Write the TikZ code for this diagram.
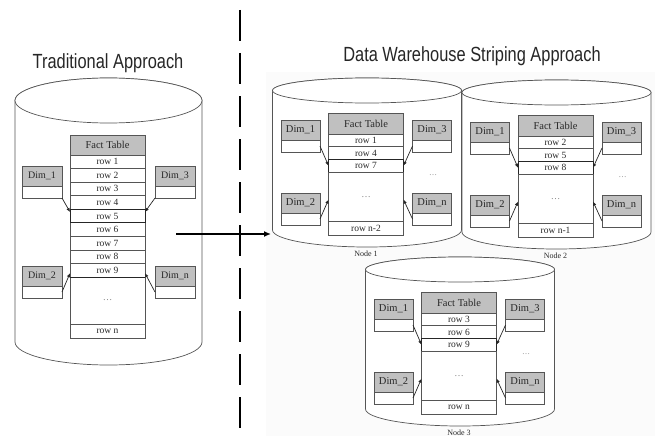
\documentclass[tikz,border=0pt]{standalone}
\usepackage{fontspec}
\setmainfont{Liberation Serif}
\newfontfamily\ttlfont[FakeStretch=0.8]{Liberation Sans}
\usetikzlibrary{positioning, arrows.meta}

\definecolor{hdrgray}{RGB}{192,192,192}
\definecolor{edgegray}{RGB}{85,85,85}
\definecolor{inkgray}{RGB}{40,40,40}

\newcommand{\dbcyl}[6]{%
  \filldraw[db] (#1-#4,#2) -- (#1-#4,#3) arc[start angle=180, end angle=360, x radius=#4pt, y radius=#6pt]
    -- (#1+#4,#2) arc[start angle=0, end angle=180, x radius=#4pt, y radius=#5pt] -- cycle;
  \draw[db] (#1,#2) ellipse[x radius=#4pt, y radius=#5pt];}

\begin{document}
\begin{tikzpicture}[x=1pt, y=-1pt,
  db/.style={draw=edgegray, fill=white, line width=0.7pt},
  box/.style={draw=edgegray, line width=0.6pt, inner sep=0pt, outer sep=0pt, text=inkgray},
  fthead/.style={box, fill=hdrgray, minimum width=75pt, anchor=north, font=\fontsize{10.5}{10.5}\selectfont},
  ftrow/.style={box, fill=white, minimum width=75pt, font=\fontsize{9.5}{9.5}\selectfont},
  hit/.style={draw=black!85},
  dimhead/.style={box, fill=hdrgray, minimum width=40pt, minimum height=20pt, anchor=north, font=\fontsize{10}{10}\selectfont},
  dimbody/.style={box, fill=white, minimum width=40pt, minimum height=12pt},
  dimarrow/.style={-{Latex[length=4pt,width=3.5pt]}, line width=0.7pt, black!85},
  bigarrow/.style={-{Latex[length=7pt,width=6pt]}, line width=1.8pt},
  divider/.style={line width=1.8pt, dash pattern=on 31pt off 12pt},
  title/.style={anchor=base, text=black!85, font=\ttlfont\fontsize{20.5}{24}\selectfont},
  note/.style={text=gray, font=\fontsize{8}{8}\selectfont},
  nodelbl/.style={text=inkgray, font=\fontsize{8}{8}\selectfont}]

\useasboundingbox (0,0) rectangle (655,436);
\fill[gray!3] (266,72) rectangle (655,436);

\node[title] (ttl-a) at (108,68) {Traditional Approach};
\node[title] (ttl-b) at (472,62) {Data Warehouse Striping Approach};

\draw[divider] (240,10) -- (240,436);

\dbcyl{108.5}{100.5}{342}{93.5}{22.5}{23}
\node[fthead, minimum height=20pt] (t-h) at (107.5,135) {Fact Table};
\foreach \i [remember=\i as \p (initially h)] in {1,...,9}
  \node[ftrow, minimum height=13.55pt, below=0pt of t-\p] (t-\i) {row \i};
\node[ftrow, minimum height=47pt, below=0pt of t-9] (t-gap) {\textcolor{gray}{\dots}};
\node[ftrow, minimum height=14pt, below=0pt of t-gap] (t-n) {row n};
\draw[hit, line width=0.9pt] (t-5.north west) rectangle (t-5.south east);
\draw[hit, line width=0.9pt] (t-9.south west) -- (t-9.south east);

\foreach \d/\x/\y in {1/42/166, 3/175/166, 2/42/266, n/175/266}{
  \node[dimhead] (d\d-h) at (\x,\y) {Dim\_\d};
  \node[dimbody, below=0pt of d\d-h] (d\d-b) {};
}
\draw[dimarrow] (d1-b.south east) -- ([yshift=4pt]t-5.west);
\draw[dimarrow] (d3-b.south west) -- ([yshift=4pt]t-5.east);
\draw[dimarrow] (d2-b.east) -- ([yshift=-3pt]t-9.west);
\draw[dimarrow] (dn-b.west) -- ([yshift=-3pt]t-9.east);

\foreach \k/\cx/\ty/\ra/\rb/\rc/\last in {1/366/113/1/4/7/n-2, 2/555.5/115/2/5/8/n-1, 3/459/292/3/6/9/n}{
  \dbcyl{\cx+1}{\ty-22.5}{\ty+117}{94.5}{12.5}{17}
  \node[fthead, minimum height=21pt] (s\k-h) at (\cx,\ty) {Fact Table};
  \node[ftrow, minimum height=12.7pt, below=0pt of s\k-h] (s\k-a) {row \ra};
  \node[ftrow, minimum height=12.7pt, below=0pt of s\k-a] (s\k-b) {row \rb};
  \node[ftrow, hit, minimum height=12.7pt, below=0pt of s\k-b] (s\k-c) {row \rc};
  \node[ftrow, minimum height=49pt, below=0pt of s\k-c] (s\k-gap) {\textcolor{gray}{\dots}};
  \node[ftrow, minimum height=14pt, below=0pt of s\k-gap] (s\k-z) {row \last};
  \foreach \d/\dx/\dy in {1/-65.5/7, 3/66/7, 2/-65.5/80, n/66/80}{
    \node[dimhead, minimum width=39pt, font=\fontsize{10.5}{10.5}\selectfont] (s\k-d\d-h) at (\cx+\dx,\ty+\dy) {Dim\_\d};
    \node[dimbody, minimum width=39pt, below=0pt of s\k-d\d-h] (s\k-d\d-b) {};
  }
  \node[note] (s\k-more) at (\cx+67,\ty+62) {\dots};
  \node[nodelbl] (s\k-lbl) at (\cx,\ty+141) {Node \k};
  \draw[dimarrow] (s\k-d1-b.east) -- (s\k-c.west);
  \draw[dimarrow] (s\k-d3-b.west) -- (s\k-c.east);
  \draw[dimarrow] (s\k-d2-b.east) -- ([yshift=-3pt]s\k-gap.west);
  \draw[dimarrow] (s\k-dn-b.west) -- ([yshift=-3pt]s\k-gap.east);
}

\coordinate (big-s) at (176,234);
\coordinate (big-e) at (271,234);
\draw[bigarrow] (big-s) -- (big-e);
\end{tikzpicture}
\end{document}
